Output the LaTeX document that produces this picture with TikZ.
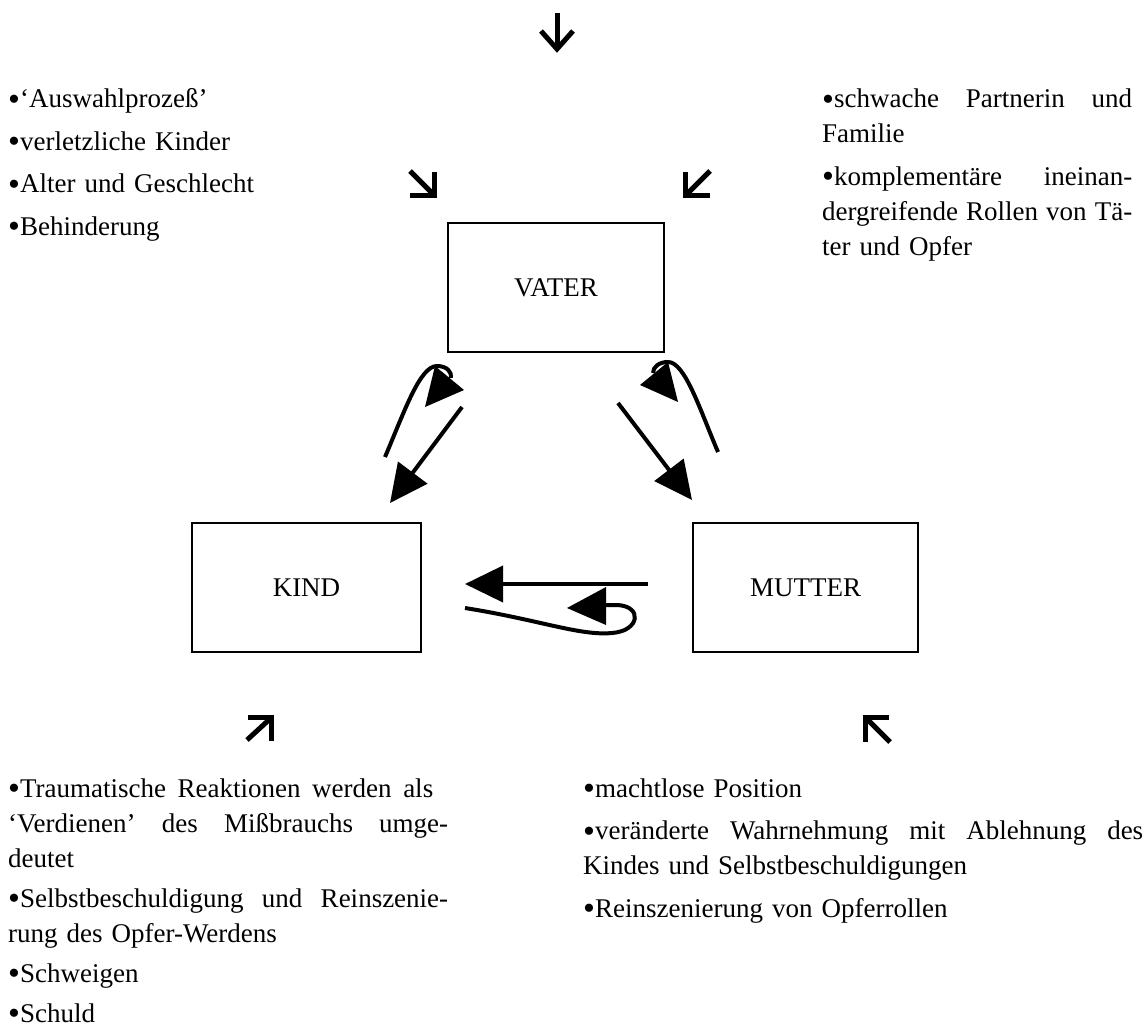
\documentclass[tikz,border=0pt]{standalone}
\usepackage{fontspec}
\setmainfont{Liberation Serif}
\usetikzlibrary{arrows.meta}

% a line of text spread to a given width (words separated by \hfill)
\newcommand{\spreadline}[2]{\leavevmode\hbox to #1{#2}}
% list bullet, a little larger than the text's own
\newcommand{\bul}{\raisebox{-2.5pt}{\fontsize{34}{35}\selectfont •}}

\begin{document}
\begin{tikzpicture}[x=1pt,y=-1pt,
  txt/.style={font=\fontsize{27}{35}\selectfont},
  box/.style={txt, draw, line width=1.3pt, inner sep=0pt},
  link/.style={line width=4pt, -{Triangle[length=38pt,width=36pt]}},
  curl/.style={line width=4pt},
  head/.style={fill=black},
  glyph/.style={line width=5pt, line join=miter, line cap=butt},
  notes/.style={txt, anchor=base west, inner sep=0pt, align=left,
    execute at begin node=\setlength{\parskip}{7.5pt}},
  tightnotes/.style={notes,
    execute at begin node=\setlength{\parskip}{5pt}}
]
\useasboundingbox (0,0) rectangle (1147,1035);

% the three family members
\node[box, minimum width=216pt, minimum height=129pt] (vater) at (556,287.5) {VATER};
\node[box, minimum width=229pt, minimum height=129pt] (kind) at (306.5,587.5) {KIND};
\node[box, minimum width=225pt, minimum height=129pt] (mutter) at (805.5,587.5) {MUTTER};

% influences arriving from outside
\draw[glyph] (557,13) -- (557,47);
\draw[glyph] (541,31) -- (557,49) -- (573,31);
\draw[glyph] (410,171) -- (434.5,195.5);
\draw[glyph] (434.5,172) -- (434.5,195.5) -- (410,195.5);
\draw[glyph] (710,171) -- (685.5,195.5);
\draw[glyph] (685.5,172) -- (685.5,195.5) -- (710,195.5);
\draw[glyph] (247,740) -- (271.5,717.5);
\draw[glyph] (248,717.5) -- (271.5,717.5) -- (271.5,741);
\draw[glyph] (890,742) -- (865.5,717.5);
\draw[glyph] (889,717.5) -- (865.5,717.5) -- (865.5,742);

% father -> child and back
\coordinate (vk0) at (462,407);
\coordinate (vk1) at (390,503);
\draw[link] (vk0) -- (vk1);
\coordinate (kv0) at (385,457);
\coordinate (kv1) at (451,378);
\draw[curl] (kv0) .. controls (405,410) and (420,366) .. (437,366)
  .. controls (447,366) and (452,372) .. (kv1);
\fill[head] (435,366) -- (425,407) -- (464,390) -- cycle;

% father -> mother and back
\coordinate (vm0) at (618,403);
\coordinate (vm1) at (692,500);
\draw[link] (vm0) -- (vm1);
\coordinate (mv0) at (718,452);
\coordinate (mv1) at (653,373);
\draw[curl] (mv0) .. controls (700,410) and (685,362) .. (668,362)
  .. controls (659,362) and (653,367) .. (mv1);
\fill[head] (668,362) -- (640,385) -- (678,402) -- cycle;

% mother -> child
\coordinate (mk0) at (648,584);
\coordinate (mk1) at (465,584);
\draw[link] (mk0) -- (mk1);
\coordinate (km0) at (465,608);
\coordinate (km1) at (606,605);
\draw[curl] (km0) .. controls (540,620) and (580,636) .. (612,633)
  .. controls (640,631) and (643,606) .. (617,605) -- (km1);
\fill[head] (567,608) -- (606,587) -- (606,625) -- cycle;

% notes
\node[notes, text width=330pt] (tl) at (8,108) {%
\bul‘Auswahlprozeß’\par
\bul verletzliche Kinder\par
\bul Alter und Geschlecht\par
\bul Behinderung};

\node[notes, text width=310pt] (tr) at (822,108) {%
\spreadline{310pt}{\bul schwache\hfill Partnerin\hfill und}\\
Familie\par
\spreadline{310pt}{\bul komplementäre\hfill ineinan-}\\
\spreadline{310pt}{dergreifende\hfill Rollen\hfill von\hfill Tä-}\\
ter und Opfer};

\node[tightnotes, text width=440pt] (bl) at (8,797) {%
\spreadline{425pt}{\bul Traumatische\hfill Reaktionen\hfill werden\hfill als}\\
\spreadline{440pt}{‘Verdienen’\hfill des\hfill Mißbrauchs\hfill umge-}\\
deutet\par
\spreadline{440pt}{\bul Selbstbeschuldigung\hfill und\hfill Reinszenie-}\\
rung des Opfer-Werdens\par
\bul Schweigen\par
\bul Schuld};

\node[notes, text width=560pt] (br) at (583,797) {%
\bul machtlose Position\par
\spreadline{560pt}{\bul veränderte\hfill Wahrnehmung\hfill mit\hfill Ablehnung\hfill des}\\
Kindes und Selbstbeschuldigungen\par
\bul Reinszenierung von Opferrollen};
\end{tikzpicture}
\end{document}
